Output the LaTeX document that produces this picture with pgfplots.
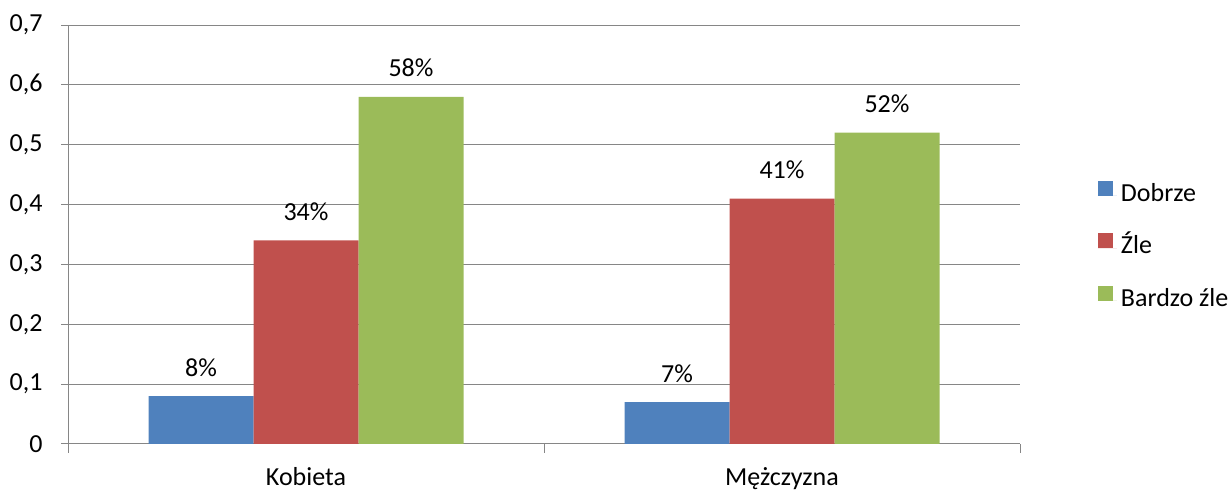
\documentclass[border=0pt]{standalone}
\usepackage{fontspec}
\setmainfont{Carlito}
\usepackage{pgfplots}
\pgfplotsset{compat=1.18}
\definecolor{cblue}{HTML}{4F81BD}
\definecolor{cred}{HTML}{C0504D}
\definecolor{cgreen}{HTML}{9BBB59}
\definecolor{cgrid}{HTML}{868686}
\newcommand{\cf}{\fontsize{26}{30}\selectfont}
\begin{document}
\begin{tikzpicture}[x=1pt,y=1pt]
\useasboundingbox (0,0) rectangle (1231,492);
\begin{axis}[
  at={(68pt,48pt)}, anchor=south west,
  scale only axis, width=952pt, height=419pt,
  xmin=-0.5, xmax=1.5, ymin=0, ymax=0.7,
  enlargelimits=false,
  ybar=0pt, bar width=105pt,
  axis x line=bottom, axis y line=left,
  x axis line style={-}, y axis line style={-},
  axis line style={cgrid, line width=1pt},
  xtick={0,1}, xticklabels={Kobieta, Mężczyzna},
  major x tick style={draw=none},
  minor xtick={-0.5,0.5,1.5},
  ytick={0,0.1,0.2,0.3,0.4,0.5,0.6,0.7},
  tick align=outside, major tick length=7pt, minor tick length=9pt,
  tick style={cgrid, line width=1pt},
  ymajorgrids, grid style={cgrid, line width=1pt},
  ticklabel style={font=\cf, text=black},
  yticklabel style={xshift=-15pt},
  xticklabel style={yshift=-13pt},
  /pgf/number format/.cd, use comma, fixed, precision=1, assume math mode=true,
  /pgfplots/.cd,
  point meta=explicit symbolic,
  nodes near coords,
  every node near coord/.append style={anchor=base, yshift=20pt, font=\cf, text=black},
  legend image code/.code={\fill[#1,draw=none] (0pt,0pt) rectangle (15pt,15pt);\path (0pt,0pt) -- (19pt,0pt);},
  legend cell align=left,
  legend style={draw=none, fill=none, inner sep=0pt, outer sep=0pt,
    anchor=west, at={(1.0819,0.470)}, font=\cf, row sep=25pt,
    nodes={inner xsep=4pt, inner ysep=0pt, text height=18pt, text depth=7pt}},
]
\addplot[fill=cblue, draw=none] coordinates {(0,0.08) [8\%] (1,0.07) [7\%]};
\addplot[fill=cred, draw=none] coordinates {(0,0.34) [34\%] (1,0.41) [41\%]};
\addplot[fill=cgreen, draw=none] coordinates {(0,0.58) [58\%] (1,0.52) [52\%]};
\legend{Dobrze, Źle, Bardzo źle}
\end{axis}
\end{tikzpicture}
\end{document}
